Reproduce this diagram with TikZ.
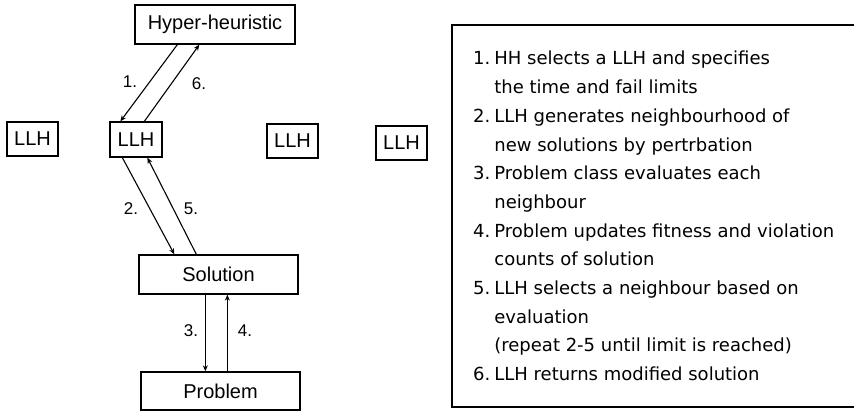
\documentclass[tikz,border=0pt]{standalone}
\usepackage{fontspec}
\setmainfont{Liberation Sans}
\newfontfamily\listfont{DejaVu Sans}
\usetikzlibrary{arrows.meta}
\begin{document}
\begin{tikzpicture}[x=1pt,y=-1pt,
  box/.style={draw, line width=1.3pt, inner sep=0pt, font=\fontsize{20}{24}\selectfont},
  llhbox/.style={box, minimum width=51pt, minimum height=34pt},
  bigbox/.style={box, minimum width=159pt, minimum height=39pt},
  conn/.style={line width=1.1pt, -{Stealth[length=6pt,width=5pt]}},
  num/.style={font=\fontsize{17}{20}\selectfont, inner sep=0pt}]
\useasboundingbox[fill=white] (0,0) rectangle (854,411);
% boxes
\node[bigbox, minimum width=160pt] (hh) at (215,24.5) {Hyper-heuristic};
\node[llhbox] (l1) at (32.5,139) {LLH};
\node[llhbox, minimum width=52pt, minimum height=35pt] (l2) at (136,139.5) {LLH};
\node[llhbox] (l3) at (292.5,141) {LLH};
\node[llhbox] (l4) at (401.5,143) {LLH};
\node[bigbox] (sol) at (218.5,274.5) {Solution};
\node[bigbox, minimum height=38pt] (prob) at (220.5,391) {Problem};
% connectors
\draw[conn] ([xshift=43pt]hh.south west) -- ([xshift=11pt]l2.north west);
\draw[conn] ([xshift=35pt]l2.north west) -- ([xshift=65pt]hh.south west);
\draw[conn] ([xshift=13pt]l2.south west) -- ([xshift=36pt]sol.north west);
\draw[conn] ([xshift=58pt]sol.north west) -- ([xshift=38pt]l2.south west);
\draw[conn] ([xshift=67pt]sol.south west) -- ([xshift=65pt]prob.north west);
\draw[conn] ([xshift=87pt]prob.north west) -- ([xshift=89pt]sol.south west);
% labels
\node[num] (n1) at (130,82) {1.};
\node[num] (n6) at (199,84) {6.};
\node[num] (n2) at (131,209) {2.};
\node[num] (n5) at (191,209) {5.};
\node[num] (n3) at (191,331) {3.};
\node[num] (n4) at (245,331) {4.};
% legend box (right side runs off the picture)
\begin{scope}
\clip (0,0) rectangle (854,411);
\draw[line width=2.6pt] (900,25) -- (452,25) -- (452,407) -- (900,407);
\end{scope}
\node[anchor=base west, inner sep=0pt, font=\listfont\fontsize{18}{28.7}\selectfont] (legend) at (473,65)
{\begin{tabular}[t]{@{}l@{\hspace{4pt}}l@{}}
1. & HH selects a LLH and specifies\\
   & the time and fail limits\\
2. & LLH generates neighbourhood of\\
   & new solutions by pertrbation\\
3. & Problem class evaluates each\\
   & neighbour\\
4. & Problem updates fitness and violation\\
   & counts of solution\\
5. & LLH selects a neighbour based on\\
   & evaluation\\
   & (repeat 2-5 until limit is reached)\\
6. & LLH returns modified solution
\end{tabular}};
\end{tikzpicture}
\end{document}
